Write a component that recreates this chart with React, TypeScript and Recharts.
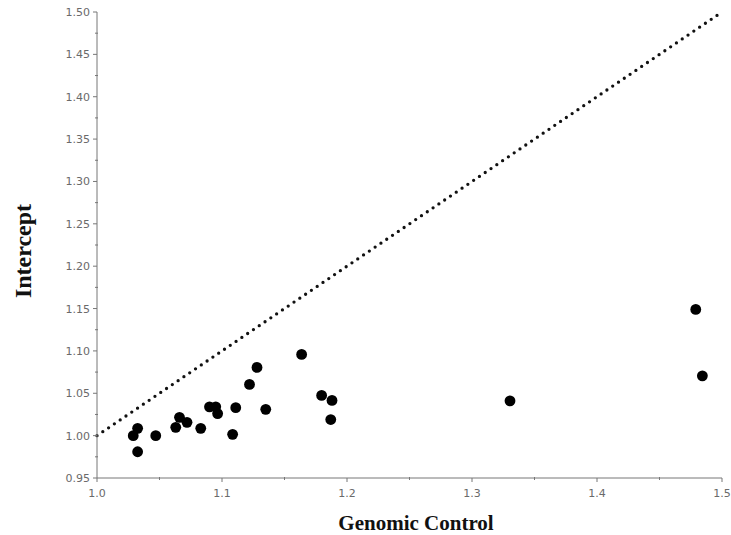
import { ScatterChart, Scatter, XAxis, YAxis, ReferenceLine } from 'recharts'

const GC = [
  1.029, 1.0325, 1.0325, 1.047, 1.063, 1.066, 1.072, 1.083, 1.09, 1.095, 1.0965,
  1.1085, 1.111, 1.122, 1.128, 1.135, 1.1637, 1.1797, 1.188, 1.187, 1.3304, 1.479, 1.4843,
]
const INTERCEPT = [
  1.0, 1.0086, 0.981, 1.0, 1.0098, 1.0216, 1.0157, 1.0086, 1.034, 1.034, 1.026,
  1.0015, 1.033, 1.0605, 1.0805, 1.031, 1.0959, 1.0475, 1.0416, 1.019, 1.041, 1.149, 1.0706,
]
const X_TICKS = [1.0, 1.05, 1.1, 1.15, 1.2, 1.25, 1.3, 1.35, 1.4, 1.45, 1.5]
const Y_TICKS = [
  0.95, 0.975, 1.0, 1.025, 1.05, 1.075, 1.1, 1.125, 1.15, 1.175, 1.2, 1.225,
  1.25, 1.275, 1.3, 1.325, 1.35, 1.375, 1.4, 1.425, 1.45, 1.475, 1.5,
]

const points = GC.map((x, i) => ({ x, y: INTERCEPT[i] }))

const AXIS = '#777'
const TICK_FONT = { fontFamily: 'DejaVu Sans', fontSize: 11, fill: '#6a6a6a' }

function XTick({ x, y, payload }: any) {
  const v = payload.value
  const major = Math.round(v * 1000) % 100 === 0
  return (
    <g>
      <line x1={x} x2={x} y1={y - (major ? 0 : 1)} y2={y + (major ? 4 : 2)} stroke={AXIS} />
      {major && (
        <text x={x} y={y + 19} textAnchor="middle" {...TICK_FONT}>
          {v.toFixed(1)}
        </text>
      )}
    </g>
  )
}

function YTick({ x, y, payload }: any) {
  const v = payload.value
  const major = Math.round(v * 1000) % 50 === 0
  return (
    <g>
      <line x1={x - (major ? 4 : 2)} x2={x + (major ? 0 : 1)} y1={y} y2={y} stroke={AXIS} />
      {major && (
        <text x={x - 7} y={y + 4} textAnchor="end" {...TICK_FONT}>
          {v.toFixed(2)}
        </text>
      )}
    </g>
  )
}

export default function App() {
  return (
    <div style={{ position: 'fixed', left: 0, top: 0, width: 731, height: 535, background: '#fff' }}>
      <ScatterChart width={731} height={535} margin={{ top: 12, right: 9, bottom: 0, left: 0 }}>
        <XAxis
          type="number"
          dataKey="x"
          domain={[1.0, 1.5]}
          ticks={X_TICKS}
          interval={0}
          tickSize={0}
          tickMargin={0}
          tick={<XTick />}
          stroke={AXIS}
          height={57}
        />
        <YAxis
          type="number"
          dataKey="y"
          domain={[0.95, 1.5]}
          ticks={Y_TICKS}
          interval={0}
          tickSize={0}
          tickMargin={0}
          tick={<YTick />}
          stroke={AXIS}
          width={97}
        />
        <ReferenceLine
          segment={[{ x: 1.0, y: 1.0 }, { x: 1.5, y: 1.5 }]}
          stroke="#111"
          strokeWidth={3.3}
          strokeDasharray="0 7"
          strokeLinecap="round"
        />
        <Scatter data={points} fill="#000" isAnimationActive={false} shape={(p: any) => (
          <circle cx={p.cx} cy={p.cy} r={5.4} fill="#000" />
        )} />
        <text
          x={416}
          y={530}
          textAnchor="middle"
          fontFamily="Liberation Serif"
          fontWeight="bold"
          fontSize={21}
          fill="#111"
        >
          Genomic Control
        </text>
        <text
          x={0}
          y={0}
          transform="translate(31 251) rotate(-90)"
          textAnchor="middle"
          fontFamily="Liberation Serif"
          fontWeight="bold"
          fontSize={24}
          fill="#111"
        >
          Intercept
        </text>
      </ScatterChart>
    </div>
  )
}
